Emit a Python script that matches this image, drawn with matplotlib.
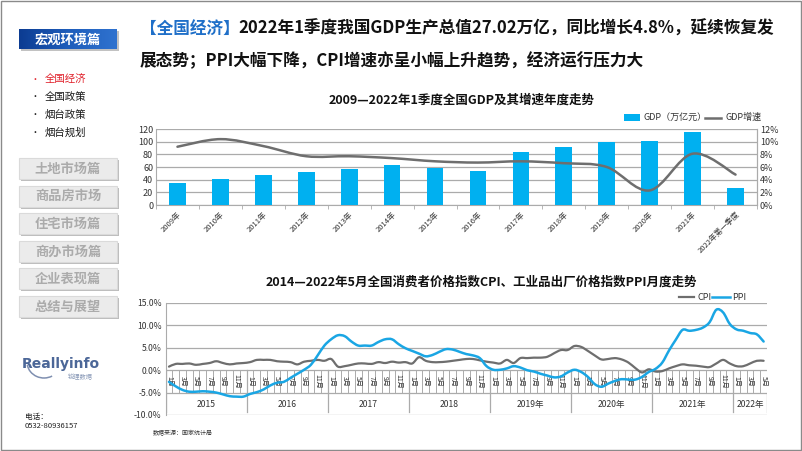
import numpy as np
import matplotlib
matplotlib.use("Agg")
import matplotlib.pyplot as plt
from matplotlib.path import Path
from matplotlib.patches import PathPatch, Rectangle, Arc

plt.rcParams['font.family'] = ['Noto Sans CJK SC', 'DejaVu Sans']

# ---------------- data ----------------
gdp_years = ['2009年', '2010年', '2011年', '2012年', '2013年', '2014年', '2015年',
             '2016年', '2017年', '2018年', '2019年', '2020年', '2021年', '2022年第一季度']
gdp_value = [34.1, 40.6, 47.3, 52.0, 57.2, 63.9, 58.9, 53.5, 83.2, 90.8, 99.6, 101.8, 114.9, 27.0]
gdp_growth = [9.2, 10.4, 9.3, 7.7, 7.7, 7.4, 6.9, 6.7, 6.9, 6.6, 6.0, 2.3, 8.1, 4.8]

cpi_years = ['2015', '2016', '2017', '2018', '2019年', '2020年', '2021年', '2022年']
cpi = [0.8, 1.4, 1.4, 1.5, 1.2, 1.4, 1.6, 2.0, 1.6, 1.3, 1.5, 1.6,
       1.8, 2.3, 2.3, 2.3, 2.0, 1.9, 1.8, 1.3, 1.9, 2.1, 2.3, 2.1,
       2.5, 0.8, 0.9, 1.2, 1.5, 1.5, 1.4, 1.8, 1.6, 1.9, 1.7, 1.8,
       1.5, 2.9, 2.1, 1.8, 1.8, 1.9, 2.1, 2.3, 2.5, 2.5, 2.2, 1.9,
       1.7, 1.5, 2.3, 1.6, 2.7, 2.7, 2.8, 2.8, 3.0, 3.8, 4.5, 4.5,
       5.4, 5.2, 4.3, 3.3, 2.4, 2.5, 2.7, 2.4, 1.7, 0.5, -0.5, 0.2,
       -0.3, -0.2, 0.4, 0.9, 1.3, 1.1, 1.0, 0.8, 0.7, 1.5, 2.3, 1.5,
       0.9, 0.9, 1.5, 2.1, 2.1]
ppi = [-2.6, -3.6, -4.4, -4.8, -4.8, -4.7, -4.8, -5.0, -5.4, -5.8, -5.9, -5.9,
       -5.3, -4.9, -4.3, -3.4, -2.8, -2.6, -1.7, -0.8, 0.1, 1.2, 3.3, 5.5,
       6.9, 7.8, 7.6, 6.4, 5.5, 5.5, 5.5, 6.3, 6.9, 6.9, 5.8, 4.9,
       4.3, 3.7, 3.1, 3.4, 4.1, 4.7, 4.6, 4.1, 3.6, 3.3, 2.7, 0.9,
       0.1, 0.1, 0.4, 0.9, 0.6, 0.0, -0.3, -0.8, -1.2, -1.6, -1.4, -0.5,
       0.1, -0.4, -1.5, -3.1, -3.7, -3.0, -2.4, -2.0, -2.1, -2.1, -1.5, -0.4,
       0.3, 1.7, 4.4, 6.8, 9.0, 8.8, 9.0, 9.5, 10.7, 13.5, 12.9, 10.3,
       9.1, 8.8, 8.3, 8.0, 6.4]
year_months = [12, 12, 12, 12, 12, 12, 12, 5]

menu_items = ['全国经济', '全国政策', '烟台政策', '烟台规划']
sections = ['土地市场篇', '商品房市场', '住宅市场篇', '商办市场篇', '企业表现篇', '总结与展望']

BLUE = '#00B0F0'
GREY_LINE = '#6E6E6E'
GRID = '#ABABAB'
W, H = 802, 451


def px_axes(fig, l, t, r, b):
    return fig.add_axes([l / W, 1 - b / H, (r - l) / W, (b - t) / H])


def smooth_line(ax, x, y, **kw):
    # Excel style smoothed line, drawn as cubic bezier segments
    n = len(x)
    verts = [(x[0], y[0])]
    codes = [Path.MOVETO]
    for i in range(n - 1):
        p0 = max(i - 1, 0)
        p3 = min(i + 2, n - 1)
        c1 = (x[i] + (x[i + 1] - x[p0]) / 6, y[i] + (y[i + 1] - y[p0]) / 6)
        c2 = (x[i + 1] - (x[p3] - x[i]) / 6, y[i + 1] - (y[p3] - y[i]) / 6)
        verts += [c1, c2, (x[i + 1], y[i + 1])]
        codes += [Path.CURVE4] * 3
    ax.add_patch(PathPatch(Path(verts, codes), fill=False, capstyle='round',
                           joinstyle='round', **kw))


fig = plt.figure(figsize=(W / 100, H / 100), dpi=100)
bg = fig.add_axes([0, 0, 1, 1])
bg.axis('off')

# slide frame
bg.add_patch(Rectangle((0.5, 0.5), W - 1.5, H - 1.5, fill=False, ec='#8A8A8A', lw=1))

# ---------------- sidebar ----------------
bg.add_patch(Rectangle((21, 31), 98, 20, color='#9A9A9A', alpha=0.6, lw=0))
grad = np.linspace(0, 1, 100)
grad = np.vstack([grad] * 10)
bg.imshow(grad, extent=(19, 117, 49, 29), cmap=matplotlib.colors.LinearSegmentedColormap.from_list(
    'b', ['#0C3C92', '#1E5DBB', '#2F72CF']), aspect='auto', zorder=2)
bg.text(68, 39.5, '宏观环境篇', color='white', fontsize=9.5, fontweight='bold',
        ha='center', va='center', zorder=3)

for k, item in enumerate(menu_items):
    c = '#E0202A' if k == 0 else '#1A1A1A'
    y = 79 + k * 17.8
    bg.text(35, y, '•', color=c, fontsize=6.5, ha='center', va='center')
    bg.text(45, y, item, color=c, fontsize=7.5, ha='left', va='center')

for k, s in enumerate(sections):
    top = 158 + k * 27.6
    bg.add_patch(Rectangle((21, top + 2), 98, 21, color='#BDBDBD', lw=0))
    bg.add_patch(Rectangle((19, top), 98, 21, fc='#EBEBEB', ec='#DADADA', lw=0.8))
    bg.text(68, top + 10.5, s, color='#ABABAB', fontsize=9.5, fontweight='bold',
            ha='center', va='center')

# logo
bg.add_patch(Arc((44, 362), 34, 32, theta1=60, theta2=170, color='#7F8FB0', lw=1.1))
bg.text(22, 364, 'Reallyinfo', color='#4C6798', fontsize=10, fontweight='bold',
        family=['DejaVu Sans'], ha='left', va='center')
bg.text(93, 377, '锐理数据', color='#8A9AB8', fontsize=4.5, ha='right', va='center')
bg.text(25, 417, '电话：', color='#222222', fontsize=5.5, ha='left', va='center')
bg.text(25, 426, '0532-80936157', color='#222222', fontsize=5.5, ha='left', va='center')

# ---------------- heading ----------------
t1 = bg.text(140, 29, '【全国经济】', color='#1F6FC8', fontsize=12, fontweight='bold',
             ha='left', va='center')
bg.annotate('2022年1季度我国GDP生产总值27.02万亿，同比增长4.8%，延续恢复发',
            xy=(1, 0.5), xycoords=t1, xytext=(-1, 0), textcoords='offset points',
            color='#111111', fontsize=12, fontweight='bold', ha='left', va='center')
bg.text(140, 61, '展态势；PPI大幅下降，CPI增速亦呈小幅上升趋势，经济运行压力大',
        color='#111111', fontsize=12, fontweight='bold', ha='left', va='center')

# ---------------- GDP chart ----------------
bg.text(462, 100, '2009—2022年1季度全国GDP及其增速年度走势', color='#111111',
        fontsize=9, fontweight='bold', ha='center', va='center')

ax1 = px_axes(fig, 156, 129, 757, 205)
xs = np.arange(len(gdp_years))
ax1.bar(xs, gdp_value, width=0.39, color=BLUE, zorder=3)
ax1.set_xlim(-0.5, len(gdp_years) - 0.5)
ax1.set_ylim(0, 120)
ax1.set_yticks(range(0, 121, 20))
ax1.yaxis.grid(True, color=GRID, lw=0.9)
ax1.set_axisbelow(True)
ax1.set_xticks(xs)
ax1.set_xticklabels(gdp_years, rotation=45, ha='right', rotation_mode='anchor',
                    fontsize=5.5, color='#333333')
ax1.set_xticks(np.arange(-0.5, len(gdp_years), 1), minor=True)
ax1.tick_params(axis='x', which='major', length=0, pad=4)
ax1.tick_params(axis='x', which='minor', length=3, color=GRID)
ax1.tick_params(axis='y', length=0, labelsize=6.5, labelcolor='#333333', pad=2)
ax1.spines['top'].set_visible(False)
for s in ['left', 'right', 'bottom']:
    ax1.spines[s].set_color(GRID)

ax2 = ax1.twinx()
ax2.set_ylim(0, 12)
ax2.set_yticks(range(0, 13, 2))
ax2.set_yticklabels(['%d%%' % v for v in range(0, 13, 2)])
ax2.tick_params(axis='y', length=0, labelsize=6.5, labelcolor='#333333', pad=2)
for s in ['top', 'left', 'bottom']:
    ax2.spines[s].set_visible(False)
ax2.spines['right'].set_color(GRID)
smooth_line(ax2, xs, gdp_growth, color=GREY_LINE, lw=1.8, zorder=4)

# legend
bg.add_patch(Rectangle((624, 114), 16, 7, color=BLUE, lw=0))
bg.text(643, 117.5, 'GDP（万亿元）', fontsize=6.5, color='#333333', ha='left', va='center')
bg.plot([705, 721], [117.5, 117.5], color=GREY_LINE, lw=1.8)
bg.text(726, 117.5, 'GDP增速', fontsize=6.5, color='#333333', ha='left', va='center')

# ---------------- CPI / PPI chart ----------------
bg.text(481, 282, '2014—2022年5月全国消费者价格指数CPI、工业品出厂价格指数PPI月度走势',
        color='#111111', fontsize=9, fontweight='bold', ha='center', va='center')

ax3 = px_axes(fig, 165.6, 303, 767, 415)
n = len(cpi)
mx = np.arange(n)
ax3.set_xlim(-0.5, n - 0.5)
ax3.set_ylim(-10, 15)
ax3.set_yticks([-10, -5, 0, 5, 10, 15])
ax3.set_yticklabels(['-10.0%', '-5.0%', '0.0%', '5.0%', '10.0%', '15.0%'])
ax3.yaxis.grid(True, color=GRID, lw=0.9)
ax3.set_axisbelow(True)
ax3.set_xticks([])
ax3.tick_params(axis='y', length=0, labelsize=6.2, labelcolor='#333333', pad=3)
for s in ['top', 'right', 'bottom']:
    ax3.spines[s].set_visible(False)
ax3.spines['left'].set_color(GRID)

# category band under the zero line
for b in np.arange(-0.5, n, 1):
    ax3.plot([b, b], [0, -5], color=GRID, lw=0.7, zorder=1)
start = 0
for yl, cnt in zip(cpi_years, year_months):
    ax3.plot([start - 0.5, start - 0.5], [0, -9.3], color=GRID, lw=0.9, zorder=1)
    ax3.text(start - 0.5 + cnt / 2, -7.6, yl, fontsize=6.2, color='#333333',
             ha='center', va='center')
    for m in range(0, cnt, 2):
        ax3.text(start + m, -2.4, '%d月' % (m + 1), fontsize=5, color='#333333',
                 rotation=270, ha='center', va='center')
    start += cnt
ax3.plot([n - 0.5, n - 0.5], [-5, -9.3], color=GRID, lw=0.9, zorder=1)

smooth_line(ax3, mx, cpi, color=GREY_LINE, lw=1.6, zorder=4)
smooth_line(ax3, mx, ppi, color='#1AA6E4', lw=1.8, zorder=5)

bg.plot([679, 694], [297, 297], color=GREY_LINE, lw=1.6)
bg.text(697, 297, 'CPI', fontsize=6.5, color='#333333', ha='left', va='center')
bg.plot([712, 730], [297, 297], color='#1AA6E4', lw=1.8)
bg.text(732, 297, 'PPI', fontsize=6.5, color='#333333', ha='left', va='center')

bg.text(153, 433, '数据来源：国家统计局', fontsize=4.3, color='#333333', ha='left', va='center')

bg.set_xlim(0, W)
bg.set_ylim(H, 0)
fig.savefig('out.png', dpi=100)
